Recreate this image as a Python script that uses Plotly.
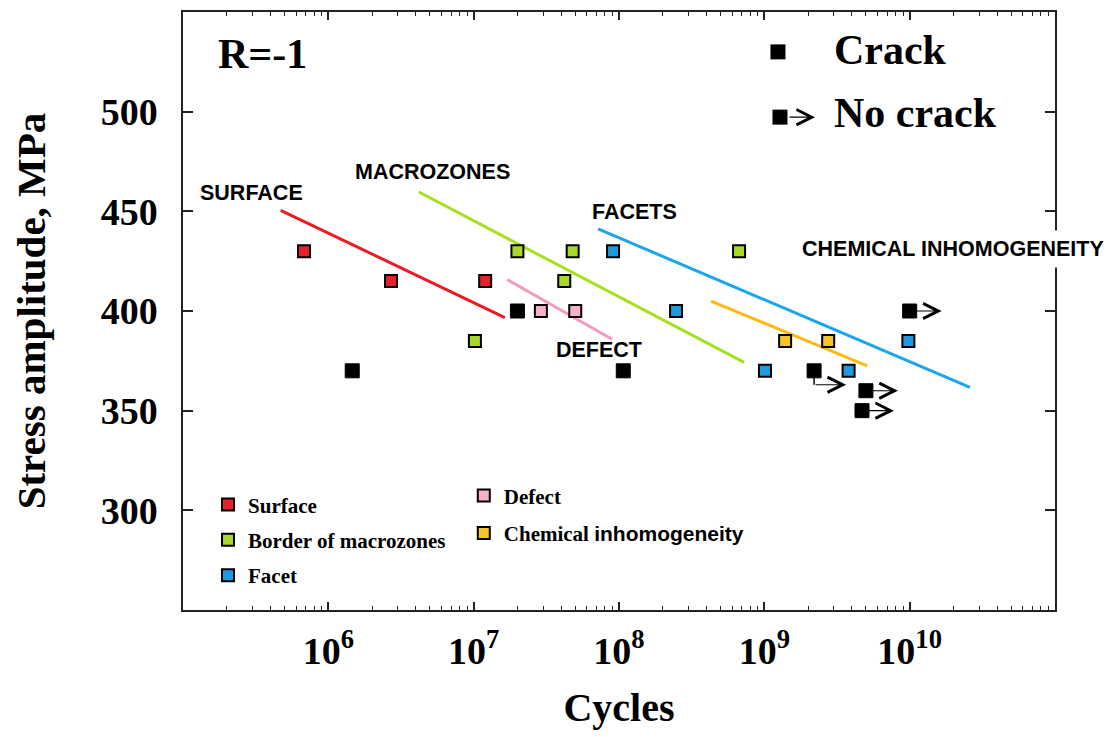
import numpy as np
import plotly.graph_objects as go

# ---------------- data ----------------
surface_N = [6.8e5, 2.7e6, 1.2e7]
surface_S = [430, 415, 415]

macro_N = [1.02e7, 2.0e7, 4.2e7, 4.8e7, 6.7e8]
macro_S = [385, 430, 415, 430, 430]

facet_N = [9.1e7, 2.47e8, 1.01e9, 3.8e9, 9.8e9]
facet_S = [430, 400, 370, 370, 385]

defect_N = [2.9e7, 5.0e7]
defect_S = [400, 400]

chem_N = [1.39e9, 2.75e9]
chem_S = [385, 385]

crack_N = [1.46e6, 2.0e7, 1.07e8]
crack_S = [370, 400, 370]

nocrack_N = [2.2e9, 5.0e9, 4.7e9, 1.0e10]
nocrack_S = [370, 360, 350, 400]
nocrack_drop = [7, 0, 0, 0]

# fitted trend lines (end points)
surface_fit_N = [4.7e5, 1.64e7]
surface_fit_S = [450.5, 396.7]
macro_fit_N = [4.2e6, 7.26e8]
macro_fit_S = [459.7, 374.2]
facet_fit_N = [7.18e7, 2.6e10]
facet_fit_S = [441.2, 361.7]
defect_fit_N = [1.7e7, 8.97e7]
defect_fit_S = [415.8, 385.8]
chem_fit_N = [4.3e8, 5.1e9]
chem_fit_S = [405, 372.5]

x_tickvals = [1e6, 1e7, 1e8, 1e9, 1e10]
x_ticktext = ["10<sup>6</sup>", "10<sup>7</sup>", "10<sup>8</sup>", "10<sup>9</sup>", "10<sup>10</sup>"]
y_tickvals = [300, 350, 400, 450, 500]

# ---------------- style ----------------
SERIF = "Liberation Serif"
SANS = "Liberation Sans"
AX = "#222222"
RED_L, RED_F = "#ED1C24", "#E8202A"
GRN_L, GRN_F = "#A6E01E", "#A8D92A"
BLU_L, BLU_F = "#1BA5EA", "#1E9BE0"
PNK_L, PNK_F = "#F59AC1", "#F6B0CB"
ORG_L, ORG_F = "#FDB913", "#F7C52A"
ARROW_LEN = 0.22  # decades

fig = go.Figure()


def add_fit(N, S, color):
    fig.add_trace(go.Scatter(x=N, y=S, mode="lines", line=dict(color=color, width=3),
                             showlegend=False, hoverinfo="skip"))


for N, S, c in [(surface_fit_N, surface_fit_S, RED_L), (macro_fit_N, macro_fit_S, GRN_L),
                (facet_fit_N, facet_fit_S, BLU_L), (defect_fit_N, defect_fit_S, PNK_L),
                (chem_fit_N, chem_fit_S, ORG_L)]:
    add_fit(N, S, c)

# drop lines for runouts
for N, S, d in zip(nocrack_N, nocrack_S, nocrack_drop):
    if d:
        fig.add_trace(go.Scatter(x=[N, N], y=[S, S - d], mode="lines",
                                 line=dict(color="black", width=1.5), showlegend=False,
                                 hoverinfo="skip"))


def add_cat(N, S, fill, name, legend):
    fig.add_trace(go.Scatter(x=N, y=S, mode="markers", name=name, legend=legend,
                             legendgroup=name,
                             marker=dict(symbol="square", size=12, color=fill,
                                         line=dict(color="black", width=2))))


add_cat(surface_N, surface_S, RED_F, "Surface", "legend")
add_cat(macro_N, macro_S, GRN_F, "Border of macrozones", "legend")
add_cat(facet_N, facet_S, BLU_F, "Facet", "legend")
add_cat(defect_N, defect_S, PNK_F, "Defect", "legend2")
add_cat(chem_N, chem_S, ORG_F,
        'Chemical <span style="font-family:Liberation Sans,Arial,sans-serif">inhomogeneity</span>',
        "legend2")

fig.add_trace(go.Scatter(x=crack_N, y=crack_S, mode="markers", showlegend=False,
                         marker=dict(symbol="square", size=14, color="black",
                                     line=dict(color="black", width=1))))
fig.add_trace(go.Scatter(x=nocrack_N, y=nocrack_S, mode="markers", showlegend=False,
                         marker=dict(symbol="square", size=14, color="black",
                                     line=dict(color="black", width=1))))

# runout arrows
for N, S, d in zip(nocrack_N, nocrack_S, nocrack_drop):
    x0 = float(np.log10(N))
    y0 = S - d
    fig.add_annotation(x=x0 + ARROW_LEN, y=y0, ax=x0, ay=y0, xref="x", yref="y",
                       axref="x", ayref="y", text="", showarrow=True, arrowhead=5,
                       arrowsize=2.5, arrowwidth=1.2, arrowcolor="black")

# region labels
lab_font = dict(family=SANS, size=21.5, color="black", weight="bold")
for txt, x, y in [("SURFACE", 0.078, 0.698), ("MACROZONES", 0.2856, 0.733),
                  ("FACETS", 0.518, 0.665), ("DEFECT", 0.477, 0.435)]:
    fig.add_annotation(x=x, y=y, xref="paper", yref="paper", text=txt, showarrow=False,
                       font=lab_font, xanchor="center", yanchor="middle")
fig.add_annotation(x=0.883, y=0.603, xref="paper", yref="paper", text="CHEMICAL INHOMOGENEITY",
                   showarrow=False, font=lab_font, xanchor="center", yanchor="middle",
                   bgcolor="white", borderpad=6)

# R = -1
fig.add_annotation(x=0.0906, y=0.93, xref="paper", yref="paper", text="R=-1", showarrow=False,
                   font=dict(family=SERIF, size=42, color="black", weight="bold"),
                   xanchor="center", yanchor="middle")

# Crack / No crack key
key_font = dict(family=SERIF, size=42, color="black", weight="bold")
fig.add_shape(type="rect", xref="paper", yref="paper", xsizemode="pixel", ysizemode="pixel",
              xanchor=0.6823, yanchor=0.9333, x0=-7.5, x1=7.5, y0=-7.5, y1=7.5,
              fillcolor="black", line=dict(width=0))
fig.add_shape(type="rect", xref="paper", yref="paper", xsizemode="pixel", ysizemode="pixel",
              xanchor=0.6846, yanchor=0.8242, x0=-7.5, x1=7.5, y0=-7.5, y1=7.5,
              fillcolor="black", line=dict(width=0))
fig.add_annotation(x=0.7248, y=0.8242, xref="paper", yref="paper", ax=-27, ay=0,
                   axref="pixel", ayref="pixel", text="", showarrow=True, arrowhead=5,
                   arrowsize=2.5, arrowwidth=1.2, arrowcolor="black")
fig.add_annotation(x=0.7443, y=0.9367, xref="paper", yref="paper", text="Crack", showarrow=False,
                   font=key_font, xanchor="left", yanchor="middle")
fig.add_annotation(x=0.7443, y=0.8317, xref="paper", yref="paper", text="No crack",
                   showarrow=False, font=key_font, xanchor="left", yanchor="middle")

tick_font = dict(family=SERIF, size=38, color="black", weight="bold")
leg_font = dict(family=SERIF, size=21, color="black", weight="bold")

fig.update_layout(
    width=1117, height=737, autosize=False,
    margin=dict(l=183, r=62, t=10, b=127, pad=0),
    plot_bgcolor="white", paper_bgcolor="white",
    legend=dict(x=0.0287, y=0.21, xanchor="left", yanchor="top", font=leg_font,
                bgcolor="rgba(0,0,0,0)", borderwidth=0, itemsizing="constant",
                tracegroupgap=5),
    legend2=dict(x=0.322, y=0.225, xanchor="left", yanchor="top", font=leg_font,
                 bgcolor="rgba(0,0,0,0)", borderwidth=0, itemsizing="constant",
                 tracegroupgap=7),
    xaxis=dict(type="log", range=[5, 11], tickmode="array", tickvals=x_tickvals,
               ticktext=x_ticktext, ticks="inside", ticklen=8, tickwidth=1.5, tickcolor=AX,
               minor=dict(ticks="inside", ticklen=4, tickwidth=1, tickcolor=AX, dtick="D1",
                          showgrid=False),
               showline=True, linecolor=AX, linewidth=1.5, mirror="ticks", showgrid=False,
               zeroline=False, tickfont=tick_font, ticklabelstandoff=7,
               title=dict(text="Cycles", font=dict(family=SERIF, size=40, color="black",
                                                   weight="bold"), standoff=22)),
    yaxis=dict(range=[250, 550], tickmode="array", tickvals=y_tickvals, ticks="inside",
               ticklen=10, tickwidth=1.5, tickcolor=AX, showline=True, linecolor=AX,
               linewidth=1.5, mirror="ticks", showgrid=False, zeroline=False,
               tickfont=tick_font, ticklabelstandoff=16,
               title=dict(text="Stress amplitude, MPa",
                          font=dict(family=SERIF, size=41, color="black", weight="bold"),
                          standoff=42)),
)

fig.write_html("out.html")
